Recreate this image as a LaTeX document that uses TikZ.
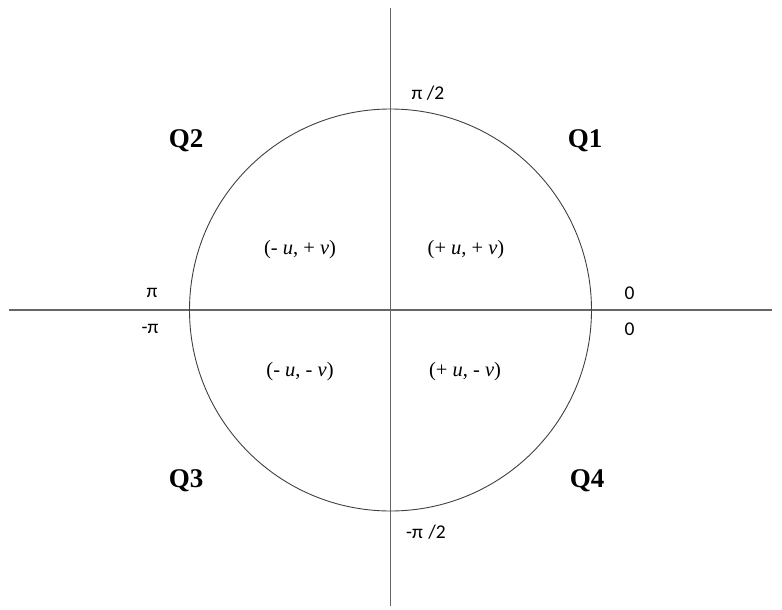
\documentclass[tikz,border=0pt]{standalone}
\usepackage{fontspec}
\setmainfont{Liberation Serif}
\newfontfamily\calfont{Carlito}
\begin{document}
\begin{tikzpicture}[x=1pt,y=-1pt,
  axis/.style={draw=black!60, line width=1.1pt},
  ring/.style={circle, draw=black!75, line width=0.9pt, minimum size=402pt, inner sep=0pt},
  anglab/.style={font=\calfont\fontsize{19.5}{21}\selectfont, inner sep=0pt},
  quad/.style={font=\bfseries\fontsize{27}{29}\selectfont, inner sep=0pt},
  sign/.style={font=\fontsize{20.5}{23}\selectfont, inner sep=0pt}]
\useasboundingbox (0,0) rectangle (782,610);
\coordinate (O) at (390.5,310);
\coordinate (xl) at (9,310);
\coordinate (xr) at (772,310);
\coordinate (yt) at (390.5,8);
\coordinate (yb) at (390.5,606);
\draw[axis] (xl) -- (xr);
\draw[axis] (yt) -- (yb);
\node[ring] (c) at (O) {};
\node[anglab] (p2) at (428,93) {π /2};
\node[anglab] (pl) at (152,293) {π};
\node[anglab] (ml) at (150,329) {-π};
\node[anglab] (z1) at (629.5,293) {0};
\node[anglab] (z2) at (629.5,329) {0};
\node[anglab] (mp2) at (426,532) {-π\hspace{1pt} /2};
\node[quad] (q1) at (585,141) {Q1};
\node[quad] (q2) at (186,141) {Q2};
\node[quad] (q3) at (186,481) {Q3};
\node[quad] (q4) at (587,481) {Q4};
\node[sign] (s2) at (300,250) {(- \textit{u}, + \textit{v})};
\node[sign] (s1) at (466,250) {(+ \textit{u}, + \textit{v})};
\node[sign] (s3) at (300,372) {(- \textit{u}, - \textit{v})};
\node[sign] (s4) at (465,372) {(+ \textit{u}, - \textit{v})};
\end{tikzpicture}
\end{document}
